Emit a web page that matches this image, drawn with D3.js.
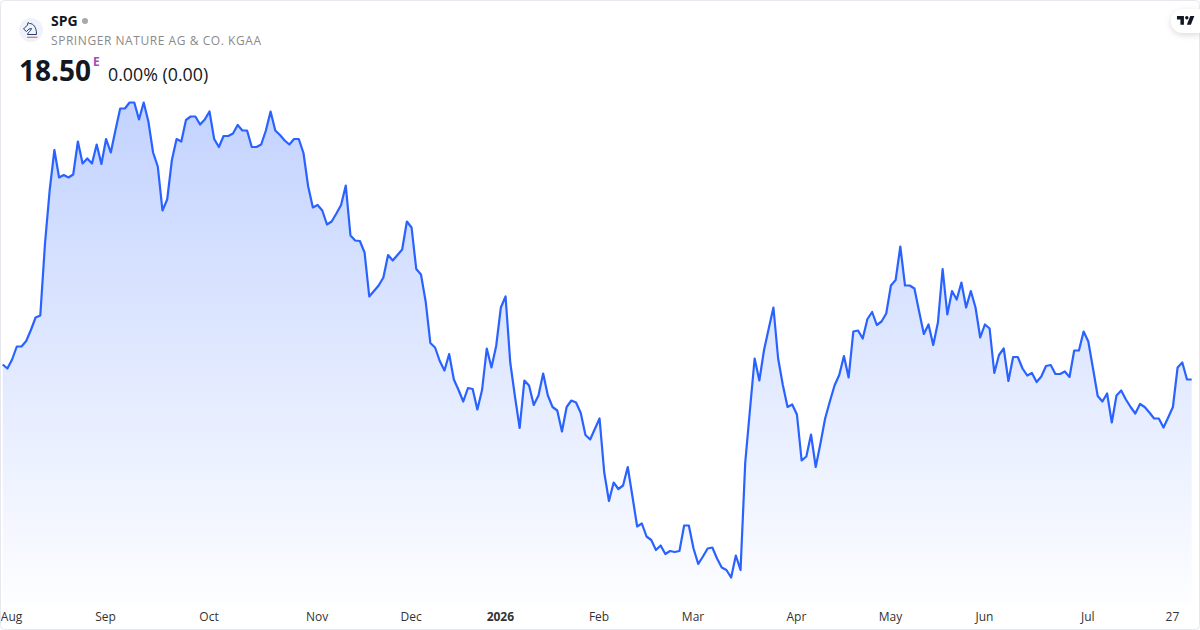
<!DOCTYPE html>
<html>
<head>
<meta charset="utf-8">
<title>SPG</title>
<script src="https://cdnjs.cloudflare.com/ajax/libs/d3/7.8.5/d3.min.js"></script>
<style>
    html, body { margin: 0; padding: 0; background: #fff; }
    svg { display: block; }
    text { font-family: "Open Sans", "Noto Sans", sans-serif; }
    .tick text { font-size: 12px; fill: #333; }
</style>
</head>
<body>
<div id="chart"></div>
<script>
// closing prices, one per trading day
var prices = [
    18.80, 18.72, 18.90, 19.16, 19.16, 19.27, 19.49, 19.74, 19.78, 21.22,
    22.29, 23.09, 22.54, 22.59, 22.54, 22.60, 23.26, 22.82, 22.92, 22.82,
    23.20, 22.81, 23.31, 23.04, 23.49, 23.92, 23.92, 24.04, 24.04, 23.70,
    24.04, 23.66, 23.04, 22.76, 21.88, 22.10, 22.89, 23.31, 23.26, 23.69,
    23.76, 23.76, 23.60, 23.70, 23.86, 23.31, 23.15, 23.37, 23.37, 23.42,
    23.59, 23.48, 23.48, 23.15, 23.15, 23.20, 23.48, 23.86, 23.48, 23.39,
    23.28, 23.20, 23.31, 23.31, 23.03, 22.36, 21.94, 21.99, 21.88, 21.60,
    21.66, 21.82, 21.99, 22.38, 21.38, 21.28, 21.27, 21.04, 20.16, 20.27,
    20.38, 20.54, 20.99, 20.88, 20.99, 21.10, 21.66, 21.54, 20.71, 20.60,
    20.06, 19.23, 19.14, 18.87, 18.68, 19.01, 18.50, 18.29, 18.06, 18.33,
    18.31, 17.90, 18.29, 19.12, 18.74, 19.17, 19.94, 20.16, 18.84, 18.16,
    17.53, 18.48, 18.38, 17.99, 18.18, 18.62, 18.18, 17.95, 17.88, 17.46,
    17.95, 18.08, 18.04, 17.83, 17.39, 17.30, 17.51, 17.72, 16.64, 16.07,
    16.44, 16.31, 16.38, 16.75, 16.16, 15.56, 15.62, 15.36, 15.29, 15.09,
    15.18, 15.01, 15.07, 15.05, 15.07, 15.58, 15.58, 15.12, 14.81, 14.96,
    15.12, 15.14, 14.92, 14.74, 14.69, 14.54, 14.98, 14.69, 16.84, 17.89,
    18.92, 18.48, 19.09, 19.52, 19.94, 18.92, 18.39, 17.95, 18.00, 17.80,
    16.88, 16.96, 17.40, 16.75, 17.22, 17.72, 18.06, 18.38, 18.59, 18.97,
    18.54, 19.46, 19.48, 19.32, 19.71, 19.85, 19.59, 19.66, 19.82, 20.38,
    20.49, 21.16, 20.38, 20.38, 20.32, 19.86, 19.41, 19.60, 19.19, 19.64,
    20.71, 19.80, 20.27, 20.10, 20.44, 19.94, 20.27, 19.94, 19.34, 19.60,
    19.52, 18.63, 18.99, 19.12, 18.47, 18.95, 18.95, 18.72, 18.58, 18.63,
    18.45, 18.56, 18.77, 18.79, 18.61, 18.61, 18.66, 18.55, 19.08, 19.08,
    19.46, 19.26, 18.72, 18.17, 18.06, 18.22, 17.64, 18.18, 18.28, 18.10,
    17.95, 17.82, 18.01, 17.95, 17.84, 17.72, 17.72, 17.54, 17.74, 17.95,
    18.74, 18.84, 18.50, 18.50
];

// index of the bar each label sits on
var tickPositions = [2, 22, 44, 67, 87, 106, 127, 147, 169, 189, 209, 231, 249];
var tickLabels = ["Aug", "Sep", "Oct", "Nov", "Dec", "2026", "Feb", "Mar", "Apr", "May", "Jun", "Jul", "27"];

var symbol = "SPG";
var company = "SPRINGER NATURE AG & CO. KGAA";
var lastPrice = "18.50";
var change = "0.00% (0.00)";

var svgWidth = 1200;
var svgHeight = 630;

var svg = d3.select("#chart").append("svg")
    .attr("width", svgWidth)
    .attr("height", svgHeight);

var defs = svg.append("defs");

// Scales
var xScale = d3.scaleLinear()
    .domain([0, prices.length - 1])
    .range([2.7, 1191.7]);

var yScale = d3.scaleLinear()
    .domain([14, 25])
    .range([604.5, 54.5]);

// Area fill fades out towards the bottom
var grad = defs.append("linearGradient")
    .attr("id", "areaFill")
    .attr("gradientUnits", "userSpaceOnUse")
    .attr("x1", 0).attr("x2", 0)
    .attr("y1", yScale(d3.max(prices)))
    .attr("y2", yScale(14));
grad.append("stop").attr("offset", "0%").attr("stop-color", "#2962ff").attr("stop-opacity", 0.28);
grad.append("stop").attr("offset", "100%").attr("stop-color", "#2962ff").attr("stop-opacity", 0.01);

var shadow = defs.append("filter")
    .attr("id", "pillShadow")
    .attr("x", "-50%").attr("y", "-50%")
    .attr("width", "200%").attr("height", "200%");
shadow.append("feDropShadow")
    .attr("dx", 0).attr("dy", 2)
    .attr("stdDeviation", 3)
    .attr("flood-color", "#000")
    .attr("flood-opacity", 0.15);

var area = d3.area()
    .x((d, i) => xScale(i))
    .y0(yScale(14))
    .y1(d => yScale(d));

var line = d3.line()
    .x((d, i) => xScale(i))
    .y(d => yScale(d));

svg.append("path")
    .datum(prices)
    .attr("d", area)
    .attr("fill", "url(#areaFill)");

svg.append("path")
    .datum(prices)
    .attr("d", line)
    .attr("fill", "none")
    .attr("stroke", "#2962ff")
    .attr("stroke-width", 2.2)
    .attr("stroke-linejoin", "round");

// Time axis, no line and no tick marks
var bottomAxis = d3.axisBottom(xScale)
    .tickValues(tickPositions)
    .tickFormat((d, i) => tickLabels[i])
    .tickSize(0)
    .tickPadding(0);

var xAxis = svg.append("g")
    .attr("transform", "translate(-1, 612.5)")
    .call(bottomAxis);
xAxis.select(".domain").remove();
xAxis.selectAll(".tick text")
    .attr("font-family", null)
    .attr("font-size", null)
    .style("font-weight", d => d == 106 ? 700 : 400);

// Card border
svg.append("rect")
    .attr("x", 0.5).attr("y", 0.5)
    .attr("width", svgWidth - 1).attr("height", svgHeight - 1)
    .attr("rx", 4)
    .attr("fill", "none")
    .attr("stroke", "#e6e8ee");

// Logo
var logo = svg.append("g");
logo.append("circle")
    .attr("cx", 31).attr("cy", 30).attr("r", 12)
    .attr("fill", "#eef2fb");
logo.append("path")
    .attr("d", "M28 22.5 L29.5 23.5 C33.5 23.5 36.5 27 36.5 34.5 L27.5 34.5 C28 32 31 31 31.5 28.5 L29 29 L26.5 31.5 L23.5 29 L27.5 25 Z")
    .attr("fill", "none")
    .attr("stroke", "#2b3f6b")
    .attr("stroke-width", 1);
logo.append("line")
    .attr("x1", 27).attr("x2", 37.5)
    .attr("y1", 37.3).attr("y2", 37.3)
    .attr("stroke", "#e8772e")
    .attr("stroke-width", 1.2);

// Header text
svg.append("text")
    .attr("x", 51).attr("y", 26)
    .style("font-size", "14px")
    .style("font-weight", 700)
    .attr("fill", "#131722")
    .text(symbol);

svg.append("circle")
    .attr("cx", 85).attr("cy", 21).attr("r", 3)
    .attr("fill", "#a8a8a8");

svg.append("text")
    .attr("x", 51).attr("y", 45)
    .style("font-size", "12px")
    .attr("textLength", 210)
    .attr("fill", "#8a8a8a")
    .text(company);

svg.append("text")
    .attr("x", 19).attr("y", 81)
    .style("font-size", "28px")
    .style("font-weight", 700)
    .attr("fill", "#131722")
    .text(lastPrice);

svg.append("text")
    .attr("x", 93).attr("y", 66)
    .style("font-size", "12px")
    .style("font-weight", 700)
    .attr("fill", "#ab47bc")
    .text("E");

svg.append("text")
    .attr("x", 108).attr("y", 81)
    .style("font-size", "17.8px")
    .attr("fill", "#131722")
    .text(change);

// TradingView badge
svg.append("path")
    .attr("d", "M1200 9 L1183 9 A12 12 0 0 0 1183 33 L1200 33 Z")
    .attr("fill", "#fff")
    .attr("filter", "url(#pillShadow)");
svg.append("path")
    .attr("d", "M14 6H2v6h6v9h6V6Zm12 15h-7l6-15h7l-6 15Zm-7-9a3 3 0 1 0 0-6 3 3 0 0 0 0 6Z")
    .attr("transform", "translate(1175.8, 12.5) scale(0.58)")
    .attr("fill", "#131722");
</script>
</body>
</html>
